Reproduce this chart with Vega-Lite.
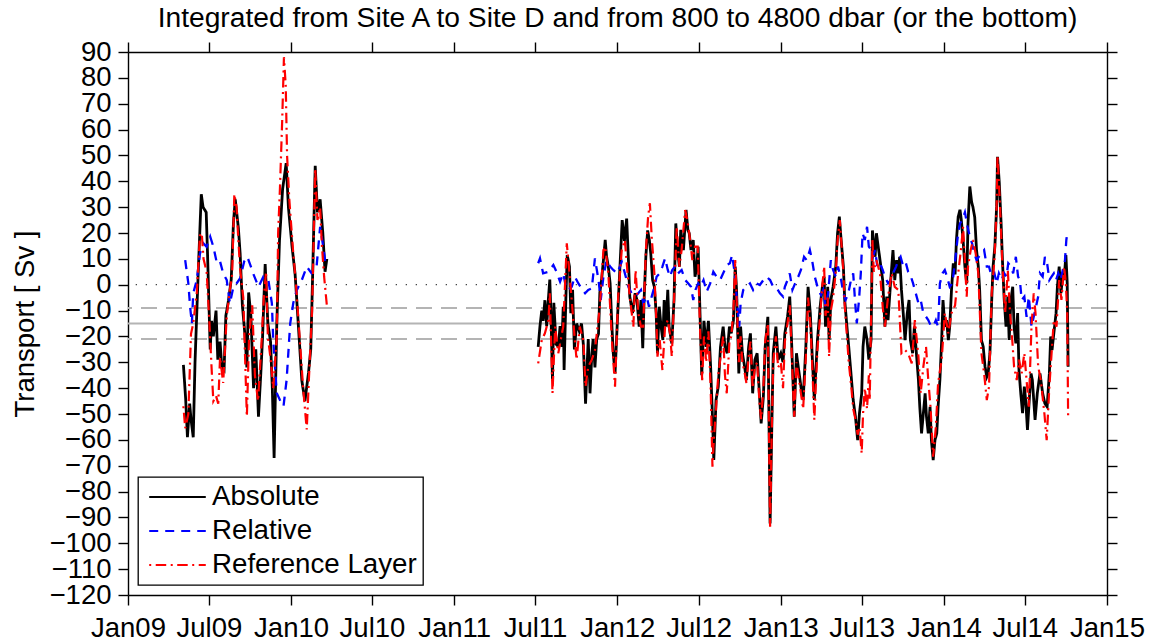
{
  "$schema": "https://vega.github.io/schema/vega-lite/v6.json",
  "width": 979,
  "height": 543,
  "autosize": {"type": "none"},
  "padding": {"left": 128, "top": 52, "right": 44, "bottom": 47},
  "title": {
    "text": "Integrated from Site A to Site D and from 800 to 4800 dbar (or the bottom)",
    "anchor": "middle", "fontSize": 28.2, "fontWeight": "normal", "color": "#000",
    "font": "Liberation Sans", "offset": 5
  },
  "datasets": {
    "abs1": [
      {"d":"2009-05-05","v":-31},{"d":"2009-05-10","v":-44},{"d":"2009-05-14","v":-59},{"d":"2009-05-19","v":-46},
      {"d":"2009-05-22","v":-52},{"d":"2009-05-27","v":-59},{"d":"2009-05-31","v":-30},{"d":"2009-06-07","v":4},
      {"d":"2009-06-14","v":35},{"d":"2009-06-18","v":30},{"d":"2009-06-25","v":28},{"d":"2009-06-28","v":12},
      {"d":"2009-07-04","v":-25},{"d":"2009-07-07","v":-14},{"d":"2009-07-11","v":-20},{"d":"2009-07-17","v":-10},
      {"d":"2009-07-21","v":-29},{"d":"2009-07-26","v":-22},{"d":"2009-07-30","v":-32},{"d":"2009-08-04","v":-33},
      {"d":"2009-08-08","v":-12},{"d":"2009-08-14","v":-6},{"d":"2009-08-20","v":2},{"d":"2009-08-25","v":24},
      {"d":"2009-08-29","v":33},{"d":"2009-09-05","v":22},{"d":"2009-09-09","v":12},{"d":"2009-09-14","v":-8},
      {"d":"2009-09-20","v":-20},{"d":"2009-09-24","v":-32},{"d":"2009-09-28","v":-3},{"d":"2009-10-03","v":-12},
      {"d":"2009-10-09","v":-40},{"d":"2009-10-14","v":-25},{"d":"2009-10-20","v":-51},{"d":"2009-10-25","v":-35},
      {"d":"2009-10-29","v":-21},{"d":"2009-11-04","v":8},{"d":"2009-11-10","v":-15},{"d":"2009-11-16","v":-22},
      {"d":"2009-11-20","v":-40},{"d":"2009-11-24","v":-67},{"d":"2009-11-30","v":-15},{"d":"2009-12-06","v":17},
      {"d":"2009-12-13","v":37},{"d":"2009-12-21","v":47},{"d":"2009-12-26","v":30},{"d":"2010-01-03","v":15},
      {"d":"2010-01-10","v":4},{"d":"2010-01-17","v":-15},{"d":"2010-01-25","v":-37},{"d":"2010-02-01","v":-45},
      {"d":"2010-02-09","v":-34},{"d":"2010-02-14","v":-25},{"d":"2010-02-18","v":2},{"d":"2010-02-24","v":46},
      {"d":"2010-03-01","v":28},{"d":"2010-03-07","v":33},{"d":"2010-03-13","v":20},{"d":"2010-03-18","v":5},
      {"d":"2010-03-22","v":10}
    ],
    "abs2": [
      {"d":"2011-07-08","v":-24},{"d":"2011-07-12","v":-16},{"d":"2011-07-16","v":-10},{"d":"2011-07-19","v":-14},
      {"d":"2011-07-23","v":-6},{"d":"2011-07-27","v":-16},{"d":"2011-07-31","v":-5},{"d":"2011-08-03","v":2},
      {"d":"2011-08-06","v":-14},{"d":"2011-08-09","v":-37},{"d":"2011-08-12","v":-7},{"d":"2011-08-17","v":-23},
      {"d":"2011-08-22","v":-24},{"d":"2011-08-26","v":-16},{"d":"2011-08-30","v":-24},{"d":"2011-09-02","v":-8.5},
      {"d":"2011-09-04","v":-33},{"d":"2011-09-08","v":-5},{"d":"2011-09-11","v":11.5},{"d":"2011-09-16","v":7},
      {"d":"2011-09-19","v":-11},{"d":"2011-09-23","v":-2},{"d":"2011-09-27","v":-25},{"d":"2011-10-02","v":-15},
      {"d":"2011-10-08","v":-18},{"d":"2011-10-13","v":-15},{"d":"2011-10-17","v":-23},{"d":"2011-10-22","v":-46},
      {"d":"2011-10-28","v":-21},{"d":"2011-11-01","v":-42},{"d":"2011-11-05","v":-27},{"d":"2011-11-08","v":-21},
      {"d":"2011-11-12","v":-32},{"d":"2011-11-16","v":-21},{"d":"2011-11-20","v":-19},{"d":"2011-11-23","v":-3},
      {"d":"2011-11-27","v":2},{"d":"2011-12-01","v":9.5},{"d":"2011-12-05","v":17.3},{"d":"2011-12-08","v":11},
      {"d":"2011-12-12","v":7},{"d":"2011-12-16","v":0.5},{"d":"2011-12-20","v":-16},{"d":"2011-12-23","v":-26.5},
      {"d":"2011-12-27","v":-34.3},{"d":"2012-01-02","v":-11},{"d":"2012-01-07","v":7},{"d":"2012-01-12","v":25},
      {"d":"2012-01-17","v":17},{"d":"2012-01-22","v":25.6},{"d":"2012-01-26","v":9.5},{"d":"2012-01-29","v":-4.6},
      {"d":"2012-02-04","v":-11},{"d":"2012-02-10","v":-3.3},{"d":"2012-02-14","v":-5.9},{"d":"2012-02-19","v":-16.2},
      {"d":"2012-02-23","v":-5.9},{"d":"2012-02-27","v":-24.6},{"d":"2012-03-01","v":-5.9},{"d":"2012-03-05","v":11},
      {"d":"2012-03-09","v":21},{"d":"2012-03-13","v":17},{"d":"2012-03-16","v":12},{"d":"2012-03-20","v":1.8},
      {"d":"2012-03-24","v":-0.8},{"d":"2012-03-28","v":-11},{"d":"2012-03-31","v":-26.5},{"d":"2012-04-04","v":-8.5},
      {"d":"2012-04-08","v":-16.2},{"d":"2012-04-12","v":-21.4},{"d":"2012-04-15","v":-5.9},{"d":"2012-04-19","v":-16.2},
      {"d":"2012-04-23","v":-2},{"d":"2012-04-26","v":-16.2},{"d":"2012-05-02","v":-22.7},{"d":"2012-05-07","v":-5.9},
      {"d":"2012-05-11","v":23.7},{"d":"2012-05-15","v":13.4},{"d":"2012-05-19","v":7},{"d":"2012-05-22","v":21.2},
      {"d":"2012-05-28","v":13.4},{"d":"2012-06-03","v":28.9},{"d":"2012-06-07","v":21.2},{"d":"2012-06-10","v":19.9},
      {"d":"2012-06-14","v":13.4},{"d":"2012-06-19","v":17.3},{"d":"2012-06-23","v":3.1},{"d":"2012-06-27","v":7},
      {"d":"2012-06-30","v":14.7},{"d":"2012-07-04","v":-10},{"d":"2012-07-08","v":-35},{"d":"2012-07-13","v":-14},
      {"d":"2012-07-18","v":-24},{"d":"2012-07-23","v":-14},{"d":"2012-07-28","v":-32},{"d":"2012-08-01","v":-51},
      {"d":"2012-08-04","v":-67.8},{"d":"2012-08-09","v":-44.6},{"d":"2012-08-14","v":-39.4},{"d":"2012-08-19","v":-24},
      {"d":"2012-08-25","v":-16.2},{"d":"2012-08-29","v":-24},{"d":"2012-09-03","v":-26.5},{"d":"2012-09-08","v":-16.2},
      {"d":"2012-09-12","v":-18.8},{"d":"2012-09-17","v":-13.7},{"d":"2012-09-21","v":7},{"d":"2012-09-24","v":-2},
      {"d":"2012-09-29","v":-34.3},{"d":"2012-10-03","v":-16.2},{"d":"2012-10-07","v":-26.5},{"d":"2012-10-12","v":-31.7},
      {"d":"2012-10-16","v":-36.9},{"d":"2012-10-21","v":-24},{"d":"2012-10-25","v":-18.8},{"d":"2012-10-30","v":-42},
      {"d":"2012-11-04","v":-29},{"d":"2012-11-09","v":-26.5},{"d":"2012-11-14","v":-42},{"d":"2012-11-18","v":-53.6},
      {"d":"2012-11-23","v":-43.3},{"d":"2012-11-27","v":-24},{"d":"2012-12-03","v":-12.4},{"d":"2012-12-06","v":-60},
      {"d":"2012-12-08","v":-92.3},{"d":"2012-12-12","v":-53.6},{"d":"2012-12-15","v":-26.5},{"d":"2012-12-21","v":-16.2},
      {"d":"2012-12-26","v":-29},{"d":"2013-01-01","v":-26.5},{"d":"2013-01-06","v":-30},{"d":"2013-01-10","v":-18.8},
      {"d":"2013-01-16","v":-12.4},{"d":"2013-01-21","v":-4.6},{"d":"2013-01-25","v":-21.4},{"d":"2013-01-31","v":-51},
      {"d":"2013-02-05","v":-26.5},{"d":"2013-02-09","v":-31.7},{"d":"2013-02-15","v":-39.4},{"d":"2013-02-20","v":-44.6},
      {"d":"2013-02-26","v":-24},{"d":"2013-03-03","v":-0.8},{"d":"2013-03-08","v":-11},{"d":"2013-03-12","v":-26.5},
      {"d":"2013-03-17","v":-44.6},{"d":"2013-03-20","v":-34.3},{"d":"2013-03-24","v":-21.4},{"d":"2013-03-30","v":-8.5},
      {"d":"2013-04-04","v":-0.8},{"d":"2013-04-08","v":3.1},{"d":"2013-04-11","v":-16.2},{"d":"2013-04-16","v":-0.8},
      {"d":"2013-04-19","v":-21.4},{"d":"2013-04-23","v":-5.9},{"d":"2013-04-28","v":-0.8},{"d":"2013-05-04","v":7},
      {"d":"2013-05-08","v":19.9},{"d":"2013-05-12","v":26.3},{"d":"2013-05-16","v":17.3},{"d":"2013-05-21","v":7},
      {"d":"2013-05-24","v":-5.9},{"d":"2013-05-29","v":-16.2},{"d":"2013-06-02","v":-24},{"d":"2013-06-07","v":-34.3},
      {"d":"2013-06-12","v":-44.6},{"d":"2013-06-17","v":-51},{"d":"2013-06-22","v":-60.1},{"d":"2013-06-26","v":-49.7},
      {"d":"2013-07-01","v":-42},{"d":"2013-07-04","v":-24},{"d":"2013-07-08","v":-16.2},{"d":"2013-07-13","v":-21.4},
      {"d":"2013-07-17","v":-29},{"d":"2013-07-22","v":-21.4},{"d":"2013-07-25","v":21},{"d":"2013-07-31","v":10.8},
      {"d":"2013-08-03","v":19.9},{"d":"2013-08-07","v":14.7},{"d":"2013-08-11","v":9.5},{"d":"2013-08-17","v":1.8},
      {"d":"2013-08-22","v":-16.2},{"d":"2013-08-26","v":-4.6},{"d":"2013-08-29","v":-13.7},{"d":"2013-09-04","v":1.8},
      {"d":"2013-09-09","v":13.4},{"d":"2013-09-13","v":1.8},{"d":"2013-09-17","v":9.5},{"d":"2013-09-21","v":4.4},
      {"d":"2013-09-24","v":10.8},{"d":"2013-09-28","v":-2},{"d":"2013-10-02","v":-11},{"d":"2013-10-06","v":-21.4},
      {"d":"2013-10-11","v":-11},{"d":"2013-10-15","v":-5.9},{"d":"2013-10-18","v":-21.4},{"d":"2013-10-23","v":-26.5},
      {"d":"2013-10-27","v":-16.2},{"d":"2013-11-01","v":-27.8},{"d":"2013-11-05","v":-36.9},{"d":"2013-11-08","v":-47.2},
      {"d":"2013-11-12","v":-57.5},{"d":"2013-11-16","v":-49.7},{"d":"2013-11-20","v":-42},{"d":"2013-11-23","v":-51},
      {"d":"2013-11-27","v":-57.5},{"d":"2013-12-01","v":-47.2},{"d":"2013-12-04","v":-60.1},{"d":"2013-12-08","v":-67.8},
      {"d":"2013-12-12","v":-60.1},{"d":"2013-12-16","v":-57.5},{"d":"2013-12-19","v":-47.2},{"d":"2013-12-23","v":-36.9},
      {"d":"2013-12-27","v":-21.4},{"d":"2013-12-30","v":-5.9},{"d":"2014-01-03","v":-16.2},{"d":"2014-01-07","v":-13.7},
      {"d":"2014-01-11","v":-21.4},{"d":"2014-01-14","v":-16.2},{"d":"2014-01-18","v":-2},{"d":"2014-01-22","v":8.3},
      {"d":"2014-01-26","v":4},{"d":"2014-01-29","v":17.3},{"d":"2014-02-02","v":26.3},{"d":"2014-02-06","v":29},
      {"d":"2014-02-09","v":25},{"d":"2014-02-13","v":17},{"d":"2014-02-17","v":7},{"d":"2014-02-21","v":0.5},
      {"d":"2014-02-24","v":24},{"d":"2014-02-28","v":38},{"d":"2014-03-04","v":32},{"d":"2014-03-07","v":30},
      {"d":"2014-03-11","v":26},{"d":"2014-03-15","v":13.4},{"d":"2014-03-19","v":7},{"d":"2014-03-22","v":-2},
      {"d":"2014-03-26","v":-21.4},{"d":"2014-03-30","v":-24},{"d":"2014-04-03","v":-31.7},{"d":"2014-04-07","v":-35.6},
      {"d":"2014-04-10","v":-34.3},{"d":"2014-04-14","v":-26.5},{"d":"2014-04-18","v":-5.9},{"d":"2014-04-21","v":7},
      {"d":"2014-04-25","v":14.7},{"d":"2014-04-29","v":30.2},{"d":"2014-05-01","v":49.5},{"d":"2014-05-05","v":39.2},
      {"d":"2014-05-09","v":23.7},{"d":"2014-05-12","v":9.5},{"d":"2014-05-16","v":-5.9},{"d":"2014-05-20","v":-16.2},
      {"d":"2014-05-24","v":-4.6},{"d":"2014-05-27","v":-21.4},{"d":"2014-05-31","v":-5.9},{"d":"2014-06-04","v":-0.8},
      {"d":"2014-06-07","v":-16.2},{"d":"2014-06-11","v":-22.7},{"d":"2014-06-15","v":-11},{"d":"2014-06-18","v":-33},
      {"d":"2014-06-22","v":-42},{"d":"2014-06-26","v":-49.7},{"d":"2014-06-30","v":-39.4},{"d":"2014-07-03","v":-44.6},
      {"d":"2014-07-07","v":-56.2},{"d":"2014-07-11","v":-44.6},{"d":"2014-07-15","v":-34.3},{"d":"2014-07-18","v":-36.9},
      {"d":"2014-07-24","v":-52.3},{"d":"2014-07-29","v":-42},{"d":"2014-08-04","v":-34.3},{"d":"2014-08-10","v":-42},
      {"d":"2014-08-15","v":-45.9},{"d":"2014-08-20","v":-47.2},{"d":"2014-08-25","v":-34.3},{"d":"2014-08-28","v":-20},
      {"d":"2014-08-31","v":-25.3},{"d":"2014-09-04","v":-18.8},{"d":"2014-09-09","v":-11},{"d":"2014-09-12","v":-0.8},
      {"d":"2014-09-16","v":7},{"d":"2014-09-20","v":-3.3},{"d":"2014-09-24","v":4.4},{"d":"2014-09-27","v":1.8},
      {"d":"2014-10-01","v":11.5},{"d":"2014-10-04","v":0.5},{"d":"2014-10-06","v":-31.7}
    ],
    "rel1": [
      {"d":"2009-05-09","v":9.5},{"d":"2009-05-16","v":0.6},{"d":"2009-05-20","v":-8.5},{"d":"2009-05-24","v":-15},
      {"d":"2009-05-27","v":-3.3},{"d":"2009-06-04","v":1.8},{"d":"2009-06-11","v":12},{"d":"2009-06-19","v":16},
      {"d":"2009-06-26","v":14.7},{"d":"2009-07-04","v":18.6},{"d":"2009-07-11","v":14.7},{"d":"2009-07-19","v":8.3},
      {"d":"2009-07-26","v":9},{"d":"2009-08-02","v":4.4},{"d":"2009-08-10","v":1.8},{"d":"2009-08-17","v":-7.2},
      {"d":"2009-08-25","v":-0.8},{"d":"2009-09-01","v":0.5},{"d":"2009-09-09","v":2.5},{"d":"2009-09-18","v":9},
      {"d":"2009-09-25","v":10.8},{"d":"2009-10-01","v":8},{"d":"2009-10-08","v":4.4},{"d":"2009-10-20","v":-0.8},
      {"d":"2009-10-31","v":3.1},{"d":"2009-11-11","v":2},{"d":"2009-11-19","v":-7.2},{"d":"2009-11-22","v":-21.4},
      {"d":"2009-11-30","v":-42},{"d":"2009-12-07","v":-44.6},{"d":"2009-12-15","v":-47},{"d":"2009-12-22","v":-36.8},
      {"d":"2009-12-30","v":-15},{"d":"2010-01-06","v":-7},{"d":"2010-01-14","v":-2},{"d":"2010-01-25","v":1.8},
      {"d":"2010-02-05","v":7},{"d":"2010-02-16","v":4.4},{"d":"2010-02-27","v":7},{"d":"2010-03-07","v":22.4},
      {"d":"2010-03-14","v":14.7},{"d":"2010-03-20","v":7}
    ],
    "rel2": [
      {"d":"2011-07-08","v":8.3},{"d":"2011-07-12","v":10.2},{"d":"2011-07-19","v":4.4},{"d":"2011-07-31","v":5},
      {"d":"2011-08-11","v":7.6},{"d":"2011-08-18","v":5},{"d":"2011-08-26","v":1.2},{"d":"2011-09-02","v":4.4},
      {"d":"2011-09-08","v":-0.8},{"d":"2011-09-13","v":-2},{"d":"2011-09-21","v":-0.8},{"d":"2011-09-28","v":3.1},
      {"d":"2011-10-06","v":0.5},{"d":"2011-10-13","v":-1.4},{"d":"2011-10-21","v":-3.3},{"d":"2011-10-28","v":-2},
      {"d":"2011-11-05","v":-1.4},{"d":"2011-11-12","v":10.2},{"d":"2011-11-20","v":1.8},{"d":"2011-11-25","v":-5.9},
      {"d":"2011-12-01","v":3.1},{"d":"2011-12-08","v":9.5},{"d":"2011-12-16","v":7},{"d":"2011-12-23","v":5.7},
      {"d":"2012-01-01","v":4.4},{"d":"2012-01-11","v":8.9},{"d":"2012-01-18","v":4.4},{"d":"2012-01-26","v":-0.8},
      {"d":"2012-02-02","v":-3.3},{"d":"2012-02-10","v":-4.6},{"d":"2012-02-17","v":-3.3},{"d":"2012-02-23","v":-2},
      {"d":"2012-02-28","v":-7.2},{"d":"2012-03-07","v":-4.6},{"d":"2012-03-12","v":-8.5},{"d":"2012-03-18","v":-4.6},
      {"d":"2012-03-24","v":-0.8},{"d":"2012-03-29","v":3.1},{"d":"2012-04-05","v":4.4},{"d":"2012-04-11","v":7},
      {"d":"2012-04-17","v":10.2},{"d":"2012-04-23","v":5.7},{"d":"2012-04-28","v":3.1},{"d":"2012-05-03","v":5.7},
      {"d":"2012-05-09","v":7},{"d":"2012-05-16","v":4.4},{"d":"2012-05-24","v":5.7},{"d":"2012-06-01","v":1.8},
      {"d":"2012-06-08","v":0.5},{"d":"2012-06-14","v":-0.8},{"d":"2012-06-19","v":-5.9},{"d":"2012-06-24","v":-2},
      {"d":"2012-06-30","v":0.5},{"d":"2012-07-05","v":-0.8},{"d":"2012-07-12","v":1.8},{"d":"2012-07-19","v":-2.7},
      {"d":"2012-07-27","v":0.5},{"d":"2012-08-03","v":5},{"d":"2012-08-10","v":3.1},{"d":"2012-08-18","v":1.8},
      {"d":"2012-08-25","v":4.4},{"d":"2012-09-02","v":7.6},{"d":"2012-09-09","v":8.3},{"d":"2012-09-14","v":11.5},
      {"d":"2012-09-20","v":4.4},{"d":"2012-09-26","v":-8.5},{"d":"2012-09-30","v":-16.2},{"d":"2012-10-03","v":-7.2},
      {"d":"2012-10-09","v":-2},{"d":"2012-10-16","v":-0.8},{"d":"2012-10-24","v":0.5},{"d":"2012-10-31","v":-2},
      {"d":"2012-11-08","v":0.5},{"d":"2012-11-15","v":-0.1},{"d":"2012-11-23","v":1.8},{"d":"2012-11-30","v":3.1},
      {"d":"2012-12-08","v":1.8},{"d":"2012-12-15","v":-0.8},{"d":"2012-12-23","v":-1.4},{"d":"2012-12-30","v":-3.3},
      {"d":"2013-01-06","v":-4.6},{"d":"2013-01-10","v":-0.8},{"d":"2013-01-16","v":1.8},{"d":"2013-01-21","v":4.4},
      {"d":"2013-01-27","v":-2},{"d":"2013-02-02","v":0.5},{"d":"2013-02-09","v":3.1},{"d":"2013-02-15","v":5.7},
      {"d":"2013-02-22","v":10.8},{"d":"2013-02-28","v":9.5},{"d":"2013-03-07","v":13.4},{"d":"2013-03-12","v":9.5},
      {"d":"2013-03-18","v":3.1},{"d":"2013-03-26","v":-2},{"d":"2013-04-01","v":-4},{"d":"2013-04-06","v":-2},
      {"d":"2013-04-11","v":-8.5},{"d":"2013-04-17","v":-3.3},{"d":"2013-04-23","v":9.5},{"d":"2013-04-28","v":5.7},
      {"d":"2013-05-04","v":3.1},{"d":"2013-05-09","v":7},{"d":"2013-05-16","v":1.8},{"d":"2013-05-21","v":-3.3},
      {"d":"2013-05-26","v":-5.9},{"d":"2013-06-01","v":-3.3},{"d":"2013-06-07","v":1.8},{"d":"2013-06-12","v":4.4},
      {"d":"2013-06-16","v":-5.9},{"d":"2013-06-20","v":-15},{"d":"2013-06-25","v":-5.9},{"d":"2013-06-29","v":4.4},
      {"d":"2013-07-03","v":19.9},{"d":"2013-07-08","v":17.3},{"d":"2013-07-13","v":22.4},{"d":"2013-07-17","v":14.7},
      {"d":"2013-07-22","v":13.4},{"d":"2013-07-26","v":10.8},{"d":"2013-07-31","v":13.4},{"d":"2013-08-05","v":7},
      {"d":"2013-08-11","v":8.3},{"d":"2013-08-17","v":5.7},{"d":"2013-08-22","v":3.1},{"d":"2013-08-29","v":0.5},
      {"d":"2013-09-04","v":1.8},{"d":"2013-09-09","v":4.4},{"d":"2013-09-16","v":7},{"d":"2013-09-21","v":9.5},
      {"d":"2013-09-26","v":10.8},{"d":"2013-10-02","v":7},{"d":"2013-10-08","v":8.3},{"d":"2013-10-13","v":5},
      {"d":"2013-10-18","v":3.8},{"d":"2013-10-24","v":0.5},{"d":"2013-10-30","v":-3.3},{"d":"2013-11-05","v":-7.2},
      {"d":"2013-11-10","v":-5.9},{"d":"2013-11-16","v":-11},{"d":"2013-11-22","v":-12.4},{"d":"2013-11-27","v":-13.7},
      {"d":"2013-12-02","v":-15.6},{"d":"2013-12-08","v":-16.2},{"d":"2013-12-14","v":-13.7},{"d":"2013-12-19","v":-16.2},
      {"d":"2013-12-23","v":0.5},{"d":"2013-12-29","v":4.4},{"d":"2014-01-03","v":5.7},{"d":"2014-01-08","v":3.1},
      {"d":"2014-01-14","v":-0.8},{"d":"2014-01-20","v":0.5},{"d":"2014-01-26","v":9},{"d":"2014-02-01","v":18.6},
      {"d":"2014-02-06","v":23.7},{"d":"2014-02-11","v":25},{"d":"2014-02-17","v":28},{"d":"2014-02-23","v":22.4},
      {"d":"2014-02-28","v":18.6},{"d":"2014-03-05","v":16},{"d":"2014-03-10","v":12.2},{"d":"2014-03-15","v":9.5},
      {"d":"2014-03-20","v":10.8},{"d":"2014-03-26","v":12.2},{"d":"2014-04-01","v":13.4},{"d":"2014-04-07","v":7},
      {"d":"2014-04-12","v":7},{"d":"2014-04-18","v":3.1},{"d":"2014-04-24","v":4.4},{"d":"2014-04-29","v":0.5},
      {"d":"2014-05-04","v":4.4},{"d":"2014-05-10","v":1.8},{"d":"2014-05-16","v":4.4},{"d":"2014-05-21","v":3.1},
      {"d":"2014-05-25","v":8.3},{"d":"2014-05-31","v":7},{"d":"2014-06-05","v":4.4},{"d":"2014-06-11","v":10.8},
      {"d":"2014-06-16","v":3.1},{"d":"2014-06-20","v":1.8},{"d":"2014-06-24","v":-5.9},{"d":"2014-06-30","v":-4.6},
      {"d":"2014-07-05","v":-12.4},{"d":"2014-07-10","v":-4.6},{"d":"2014-07-16","v":-16.2},{"d":"2014-07-21","v":-12.4},
      {"d":"2014-07-26","v":-8.5},{"d":"2014-07-31","v":-4.6},{"d":"2014-08-04","v":4.4},{"d":"2014-08-10","v":3.1},
      {"d":"2014-08-15","v":10.8},{"d":"2014-08-20","v":8.3},{"d":"2014-08-25","v":1.8},{"d":"2014-08-30","v":3.1},
      {"d":"2014-09-04","v":4.4},{"d":"2014-09-09","v":1.8},{"d":"2014-09-14","v":4.4},{"d":"2014-09-19","v":1.8},
      {"d":"2014-09-24","v":5.7},{"d":"2014-09-29","v":9.5},{"d":"2014-10-02","v":17.3},{"d":"2014-10-04","v":19.9}
    ],
    "ref1": [
      {"d":"2009-05-05","v":-47},{"d":"2009-05-09","v":-55.5},{"d":"2009-05-16","v":-50},{"d":"2009-05-22","v":-19},
      {"d":"2009-05-27","v":-15},{"d":"2009-06-04","v":-3},{"d":"2009-06-11","v":19},{"d":"2009-06-15","v":20},
      {"d":"2009-06-19","v":10},{"d":"2009-06-26","v":5},{"d":"2009-07-02","v":-14},{"d":"2009-07-07","v":-32},
      {"d":"2009-07-11","v":-45},{"d":"2009-07-17","v":-43},{"d":"2009-07-22","v":-46},{"d":"2009-07-26","v":-28},
      {"d":"2009-08-02","v":-38},{"d":"2009-08-10","v":-12},{"d":"2009-08-17","v":-2},{"d":"2009-08-22","v":4},
      {"d":"2009-08-27","v":35},{"d":"2009-09-01","v":30},{"d":"2009-09-05","v":17},{"d":"2009-09-09","v":6},
      {"d":"2009-09-16","v":-5},{"d":"2009-09-24","v":-51},{"d":"2009-09-29","v":-20},{"d":"2009-10-06","v":-8},
      {"d":"2009-10-12","v":-35},{"d":"2009-10-19","v":-45},{"d":"2009-10-26","v":-25},{"d":"2009-11-01","v":-5},
      {"d":"2009-11-06","v":5},{"d":"2009-11-10","v":-20},{"d":"2009-11-17","v":-30},{"d":"2009-11-22","v":-40},
      {"d":"2009-11-30","v":-20},{"d":"2009-12-03","v":20},{"d":"2009-12-07","v":37},{"d":"2009-12-12","v":63},
      {"d":"2009-12-16","v":88},{"d":"2009-12-20","v":77},{"d":"2009-12-23","v":50},{"d":"2009-12-28","v":33},
      {"d":"2010-01-05","v":14},{"d":"2010-01-12","v":0},{"d":"2010-01-20","v":-20},{"d":"2010-01-28","v":-40},
      {"d":"2010-02-05","v":-56},{"d":"2010-02-10","v":-36},{"d":"2010-02-17","v":-10},{"d":"2010-02-24","v":45},
      {"d":"2010-03-01","v":25},{"d":"2010-03-07","v":30},{"d":"2010-03-11","v":15},{"d":"2010-03-16","v":3},
      {"d":"2010-03-22","v":-8}
    ],
    "ref2": [
      {"d":"2011-07-08","v":-30.4},{"d":"2011-07-16","v":-21.4},{"d":"2011-07-23","v":-18.8},{"d":"2011-07-31","v":-13.7},
      {"d":"2011-08-03","v":-3.3},{"d":"2011-08-09","v":-42},{"d":"2011-08-15","v":-16.2},{"d":"2011-08-22","v":-26.5},
      {"d":"2011-09-02","v":-16.2},{"d":"2011-09-10","v":16},{"d":"2011-09-16","v":4.4},{"d":"2011-09-21","v":-5.9},
      {"d":"2011-09-28","v":-21.4},{"d":"2011-10-02","v":-29},{"d":"2011-10-09","v":-16.2},{"d":"2011-10-17","v":-21.4},
      {"d":"2011-10-22","v":-39.4},{"d":"2011-10-28","v":-31.7},{"d":"2011-11-05","v":-29},{"d":"2011-11-12","v":-25.3},
      {"d":"2011-11-23","v":-8.5},{"d":"2011-12-01","v":13.4},{"d":"2011-12-05","v":14.7},{"d":"2011-12-12","v":4.4},
      {"d":"2011-12-20","v":-21.4},{"d":"2011-12-27","v":-39.4},{"d":"2012-01-03","v":-4.6},{"d":"2012-01-11","v":13.4},
      {"d":"2012-01-18","v":17.3},{"d":"2012-01-24","v":4.4},{"d":"2012-01-29","v":-4.6},{"d":"2012-02-06","v":-16.2},
      {"d":"2012-02-11","v":5.7},{"d":"2012-02-17","v":-11},{"d":"2012-02-23","v":-16.2},{"d":"2012-02-28","v":-16.2},
      {"d":"2012-03-05","v":13.4},{"d":"2012-03-10","v":26.3},{"d":"2012-03-14","v":31.5},{"d":"2012-03-18","v":18.6},
      {"d":"2012-03-24","v":4.4},{"d":"2012-03-29","v":-16.2},{"d":"2012-03-31","v":-27.8},{"d":"2012-04-05","v":-21.4},
      {"d":"2012-04-11","v":-33},{"d":"2012-04-17","v":-16.2},{"d":"2012-04-23","v":-13.7},{"d":"2012-04-28","v":-18.8},
      {"d":"2012-05-02","v":-27.8},{"d":"2012-05-07","v":-5.9},{"d":"2012-05-13","v":22.4},{"d":"2012-05-19","v":7},
      {"d":"2012-05-24","v":13.4},{"d":"2012-06-01","v":28.9},{"d":"2012-06-07","v":23.7},{"d":"2012-06-12","v":17.3},
      {"d":"2012-06-17","v":9.5},{"d":"2012-06-23","v":14.7},{"d":"2012-06-29","v":14.7},{"d":"2012-07-04","v":-16.2},
      {"d":"2012-07-09","v":-36.9},{"d":"2012-07-13","v":-20},{"d":"2012-07-18","v":-30},{"d":"2012-07-23","v":-18},
      {"d":"2012-07-28","v":-40},{"d":"2012-08-01","v":-70.4},{"d":"2012-08-04","v":-60},{"d":"2012-08-09","v":-48},
      {"d":"2012-08-14","v":-35},{"d":"2012-08-19","v":-28},{"d":"2012-08-25","v":-20},{"d":"2012-08-29","v":-35},
      {"d":"2012-09-02","v":-42},{"d":"2012-09-08","v":-22},{"d":"2012-09-12","v":-20},{"d":"2012-09-17","v":-10},
      {"d":"2012-09-21","v":9.5},{"d":"2012-09-24","v":-5},{"d":"2012-09-29","v":-30},{"d":"2012-10-03","v":-20},
      {"d":"2012-10-07","v":-30},{"d":"2012-10-12","v":-34},{"d":"2012-10-16","v":-38},{"d":"2012-10-21","v":-28},
      {"d":"2012-10-25","v":-22},{"d":"2012-10-30","v":-40},{"d":"2012-11-04","v":-32},{"d":"2012-11-09","v":-30},
      {"d":"2012-11-14","v":-45},{"d":"2012-11-18","v":-52},{"d":"2012-11-23","v":-40},{"d":"2012-11-27","v":-22},
      {"d":"2012-12-03","v":-15},{"d":"2012-12-06","v":-65},{"d":"2012-12-08","v":-93.6},{"d":"2012-12-12","v":-55},
      {"d":"2012-12-15","v":-30},{"d":"2012-12-21","v":-20},{"d":"2012-12-26","v":-32},{"d":"2013-01-01","v":-30},
      {"d":"2013-01-06","v":-40},{"d":"2013-01-10","v":-22},{"d":"2013-01-16","v":-15},{"d":"2013-01-21","v":-8},
      {"d":"2013-01-25","v":-25},{"d":"2013-01-31","v":-51},{"d":"2013-02-05","v":-30},{"d":"2013-02-09","v":-35},
      {"d":"2013-02-15","v":-42},{"d":"2013-02-20","v":-48},{"d":"2013-02-26","v":-28},{"d":"2013-03-03","v":-5},
      {"d":"2013-03-08","v":-15},{"d":"2013-03-12","v":-30},{"d":"2013-03-17","v":-52.3},{"d":"2013-03-20","v":-40},
      {"d":"2013-03-24","v":-25},{"d":"2013-03-30","v":-12},{"d":"2013-04-04","v":0},{"d":"2013-04-08","v":7},
      {"d":"2013-04-11","v":-12},{"d":"2013-04-16","v":-5},{"d":"2013-04-19","v":-27.8},{"d":"2013-04-23","v":-10},
      {"d":"2013-04-28","v":-5},{"d":"2013-05-04","v":5},{"d":"2013-05-08","v":17},{"d":"2013-05-13","v":25},
      {"d":"2013-05-17","v":15},{"d":"2013-05-21","v":5},{"d":"2013-05-24","v":-8},{"d":"2013-05-29","v":-20},
      {"d":"2013-06-02","v":-30},{"d":"2013-06-08","v":-40},{"d":"2013-06-12","v":-48},{"d":"2013-06-17","v":-52},
      {"d":"2013-06-22","v":-58},{"d":"2013-06-26","v":-55},{"d":"2013-07-01","v":-65.2},{"d":"2013-07-04","v":-50},
      {"d":"2013-07-08","v":-40},{"d":"2013-07-13","v":-48},{"d":"2013-07-17","v":-35},{"d":"2013-07-19","v":-44.6},
      {"d":"2013-07-25","v":17.3},{"d":"2013-07-28","v":5},{"d":"2013-08-03","v":9.5},{"d":"2013-08-11","v":4.4},
      {"d":"2013-08-17","v":-8.5},{"d":"2013-08-22","v":-16.2},{"d":"2013-08-29","v":-4.6},{"d":"2013-09-06","v":4.4},
      {"d":"2013-09-13","v":-0.8},{"d":"2013-09-21","v":-2},{"d":"2013-09-28","v":-26.5},{"d":"2013-10-06","v":-25.3},
      {"d":"2013-10-13","v":-26.5},{"d":"2013-10-21","v":-30.4},{"d":"2013-10-28","v":-13.7},{"d":"2013-11-05","v":-27.8},
      {"d":"2013-11-10","v":-42},{"d":"2013-11-16","v":-31.7},{"d":"2013-11-22","v":-24},{"d":"2013-11-27","v":-36.9},
      {"d":"2013-12-02","v":-47.2},{"d":"2013-12-08","v":-66.5},{"d":"2013-12-14","v":-54.9},{"d":"2013-12-19","v":-38.1},
      {"d":"2013-12-27","v":-29},{"d":"2014-01-03","v":-11},{"d":"2014-01-11","v":-18.8},{"d":"2014-01-18","v":-11},
      {"d":"2014-01-26","v":-8},{"d":"2014-02-02","v":4.4},{"d":"2014-02-08","v":13.4},{"d":"2014-02-13","v":22.4},
      {"d":"2014-02-21","v":-4.6},{"d":"2014-02-24","v":7},{"d":"2014-03-02","v":13.4},{"d":"2014-03-07","v":17.3},
      {"d":"2014-03-13","v":12.2},{"d":"2014-03-19","v":4.4},{"d":"2014-03-26","v":-26.5},{"d":"2014-04-01","v":-34.3},
      {"d":"2014-04-07","v":-44.6},{"d":"2014-04-12","v":-39.4},{"d":"2014-04-18","v":-3.3},{"d":"2014-04-24","v":9.5},
      {"d":"2014-04-29","v":30.2},{"d":"2014-05-01","v":50.1},{"d":"2014-05-06","v":32.8},{"d":"2014-05-12","v":7},
      {"d":"2014-05-18","v":-11},{"d":"2014-05-24","v":5.7},{"d":"2014-05-29","v":-11},{"d":"2014-06-03","v":-21.4},
      {"d":"2014-06-07","v":-31.7},{"d":"2014-06-13","v":-36.9},{"d":"2014-06-18","v":-29},{"d":"2014-06-24","v":-34.3},
      {"d":"2014-06-30","v":-26.5},{"d":"2014-07-05","v":-36.9},{"d":"2014-07-10","v":-47.2},{"d":"2014-07-16","v":-16.2},
      {"d":"2014-07-21","v":-3.3},{"d":"2014-07-25","v":-11},{"d":"2014-07-31","v":-31.7},{"d":"2014-08-06","v":-36.9},
      {"d":"2014-08-14","v":-50},{"d":"2014-08-19","v":-60.1},{"d":"2014-08-25","v":-39.4},{"d":"2014-08-30","v":-26.5},
      {"d":"2014-09-04","v":-13.7},{"d":"2014-09-10","v":-16.2},{"d":"2014-09-16","v":1.8},{"d":"2014-09-21","v":-5.9},
      {"d":"2014-09-27","v":7},{"d":"2014-10-01","v":0.5},{"d":"2014-10-04","v":-11},{"d":"2014-10-06","v":-51}
    ]
  },
  "layer": [
    {
      "data": {"values": [{"v": 0}]},
      "mark": {"type": "rule", "color": "#444", "strokeWidth": 1.3, "strokeDash": [1.3, 8.7]},
      "encoding": {
        "y": {"field": "v", "type": "quantitative", "scale": {"domain": [-120, 90], "nice": false, "zero": false}, "axis": null}
      }
    },
    {
      "data": {"values": [{"v": -9}, {"v": -21}]},
      "mark": {"type": "rule", "color": "#b4b4b4", "strokeWidth": 2, "strokeDash": [16, 9]},
      "encoding": {
        "y": {"field": "v", "type": "quantitative", "scale": {"domain": [-120, 90], "nice": false, "zero": false}, "axis": null}
      }
    },
    {
      "data": {"values": [{"v": -15}]},
      "mark": {"type": "rule", "color": "#b4b4b4", "strokeWidth": 2},
      "encoding": {
        "x": {
          "datum": {"year": 2009, "month": 1, "date": 1}, "type": "temporal",
          "scale": {"domain": [{"year": 2009, "month": 1, "date": 1}, {"year": 2015, "month": 1, "date": 1}]},
          "axis": {
            "orient": "top", "labels": false, "title": null,
            "values": [
              {"year": 2009, "month": 1, "date": 1}, {"year": 2009, "month": 7, "date": 1},
              {"year": 2010, "month": 1, "date": 1}, {"year": 2010, "month": 7, "date": 1},
              {"year": 2011, "month": 1, "date": 1}, {"year": 2011, "month": 7, "date": 1},
              {"year": 2012, "month": 1, "date": 1}, {"year": 2012, "month": 7, "date": 1},
              {"year": 2013, "month": 1, "date": 1}, {"year": 2013, "month": 7, "date": 1},
              {"year": 2014, "month": 1, "date": 1}, {"year": 2014, "month": 7, "date": 1},
              {"year": 2015, "month": 1, "date": 1}
            ]
          }
        },
        "x2": {"datum": {"year": 2015, "month": 1, "date": 1}},
        "y": {
          "field": "v", "type": "quantitative", "scale": {"domain": [-120, 90], "nice": false, "zero": false},
          "axis": {
            "orient": "right", "labels": false, "title": null,
            "values": [-120, -110, -100, -90, -80, -70, -60, -50, -40, -30, -20, -10, 0, 10, 20, 30, 40, 50, 60, 70, 80, 90]
          }
        }
      }
    },
    {
      "data": {"name": "abs1"},
      "mark": {"type": "line", "strokeWidth": 2.8},
      "encoding": {
        "x": {
          "field": "d", "type": "temporal",
          "scale": {"domain": [{"year": 2009, "month": 1, "date": 1}, {"year": 2015, "month": 1, "date": 1}]},
          "axis": {
            "orient": "bottom", "title": null, "format": "%b%y", "labelFlush": false, "labelOverlap": false,
            "labelPadding": 9,
            "values": [
              {"year": 2009, "month": 1, "date": 1}, {"year": 2009, "month": 7, "date": 1},
              {"year": 2010, "month": 1, "date": 1}, {"year": 2010, "month": 7, "date": 1},
              {"year": 2011, "month": 1, "date": 1}, {"year": 2011, "month": 7, "date": 1},
              {"year": 2012, "month": 1, "date": 1}, {"year": 2012, "month": 7, "date": 1},
              {"year": 2013, "month": 1, "date": 1}, {"year": 2013, "month": 7, "date": 1},
              {"year": 2014, "month": 1, "date": 1}, {"year": 2014, "month": 7, "date": 1},
              {"year": 2015, "month": 1, "date": 1}
            ]
          }
        },
        "y": {
          "field": "v", "type": "quantitative", "scale": {"domain": [-120, 90], "nice": false, "zero": false},
          "axis": {
            "orient": "left", "title": "Transport [ Sv ]", "labelPadding": 7, "titlePadding": 10,
            "labelOverlap": false, "labelExpr": "replace(datum.label, '-', '−')",
            "values": [-120, -110, -100, -90, -80, -70, -60, -50, -40, -30, -20, -10, 0, 10, 20, 30, 40, 50, 60, 70, 80, 90]
          }
        },
        "color": {"datum": "Absolute", "type": "nominal", "scale": {"domain": ["Absolute", "Relative", "Reference Layer"], "range": ["#000000", "#0000ff", "#ff0000"]}, "legend": {"title": null}},
        "strokeDash": {"datum": "Absolute", "type": "nominal", "scale": {"domain": ["Absolute", "Relative", "Reference Layer"], "range": [[1, 0], [9, 7], [2, 4.5, 10.5, 4.5]]}, "legend": {"title": null}}
      }
    },
    {
      "data": {"name": "abs2"},
      "mark": {"type": "line", "strokeWidth": 2.8},
      "encoding": {
        "x": {"field": "d", "type": "temporal", "axis": null},
        "y": {"field": "v", "type": "quantitative", "scale": {"domain": [-120, 90], "nice": false, "zero": false}, "axis": null},
        "color": {"datum": "Absolute", "type": "nominal", "legend": {"title": null}},
        "strokeDash": {"datum": "Absolute", "type": "nominal", "legend": {"title": null}}
      }
    },
    {
      "data": {"name": "rel1"},
      "mark": {"type": "line", "strokeWidth": 2.3},
      "encoding": {
        "x": {"field": "d", "type": "temporal", "axis": null},
        "y": {"field": "v", "type": "quantitative", "scale": {"domain": [-120, 90], "nice": false, "zero": false}, "axis": null},
        "color": {"datum": "Relative", "type": "nominal", "legend": {"title": null}},
        "strokeDash": {"datum": "Relative", "type": "nominal", "legend": {"title": null}}
      }
    },
    {
      "data": {"name": "rel2"},
      "mark": {"type": "line", "strokeWidth": 2.3},
      "encoding": {
        "x": {"field": "d", "type": "temporal", "axis": null},
        "y": {"field": "v", "type": "quantitative", "scale": {"domain": [-120, 90], "nice": false, "zero": false}, "axis": null},
        "color": {"datum": "Relative", "type": "nominal", "legend": {"title": null}},
        "strokeDash": {"datum": "Relative", "type": "nominal", "legend": {"title": null}}
      }
    },
    {
      "data": {"name": "ref1"},
      "mark": {"type": "line", "strokeWidth": 2.2},
      "encoding": {
        "x": {"field": "d", "type": "temporal", "axis": null},
        "y": {"field": "v", "type": "quantitative", "scale": {"domain": [-120, 90], "nice": false, "zero": false}, "axis": null},
        "color": {"datum": "Reference Layer", "type": "nominal", "legend": {"title": null}},
        "strokeDash": {"datum": "Reference Layer", "type": "nominal", "legend": {"title": null}}
      }
    },
    {
      "data": {"name": "ref2"},
      "mark": {"type": "line", "strokeWidth": 2.2},
      "encoding": {
        "x": {"field": "d", "type": "temporal", "axis": null},
        "y": {"field": "v", "type": "quantitative", "scale": {"domain": [-120, 90], "nice": false, "zero": false}, "axis": null},
        "color": {"datum": "Reference Layer", "type": "nominal", "legend": {"title": null}},
        "strokeDash": {"datum": "Reference Layer", "type": "nominal", "legend": {"title": null}}
      }
    }
  ],
  "resolve": {"axis": {"x": "independent", "y": "independent"}},
  "config": {
    "font": "Liberation Sans",
    "view": {"stroke": null},
    "axis": {
      "domainColor": "#000", "domainWidth": 1.4, "tickColor": "#000", "tickWidth": 1.4, "tickSize": 10,
      "labelColor": "#000", "labelFontSize": 27.5, "labelFont": "Liberation Sans",
      "titleColor": "#000", "titleFontSize": 27.5, "titleFontWeight": "normal", "titleFont": "Liberation Sans",
      "grid": false
    },
    "legend": {
      "orient": "bottom-left", "offset": 10, "fillColor": "#ffffff", "strokeColor": "#000000", "strokeWidth": 1.3,
      "padding": 6, "symbolType": "stroke", "symbolSize": 3200, "symbolStrokeWidth": 2, "symbolOffset": 4,
      "clipHeight": 28, "labelFontSize": 27.7, "labelFont": "Liberation Sans", "labelColor": "#000", "labelOffset": 5,
      "labelLimit": 400, "rowPadding": 6
    }
  }
}
